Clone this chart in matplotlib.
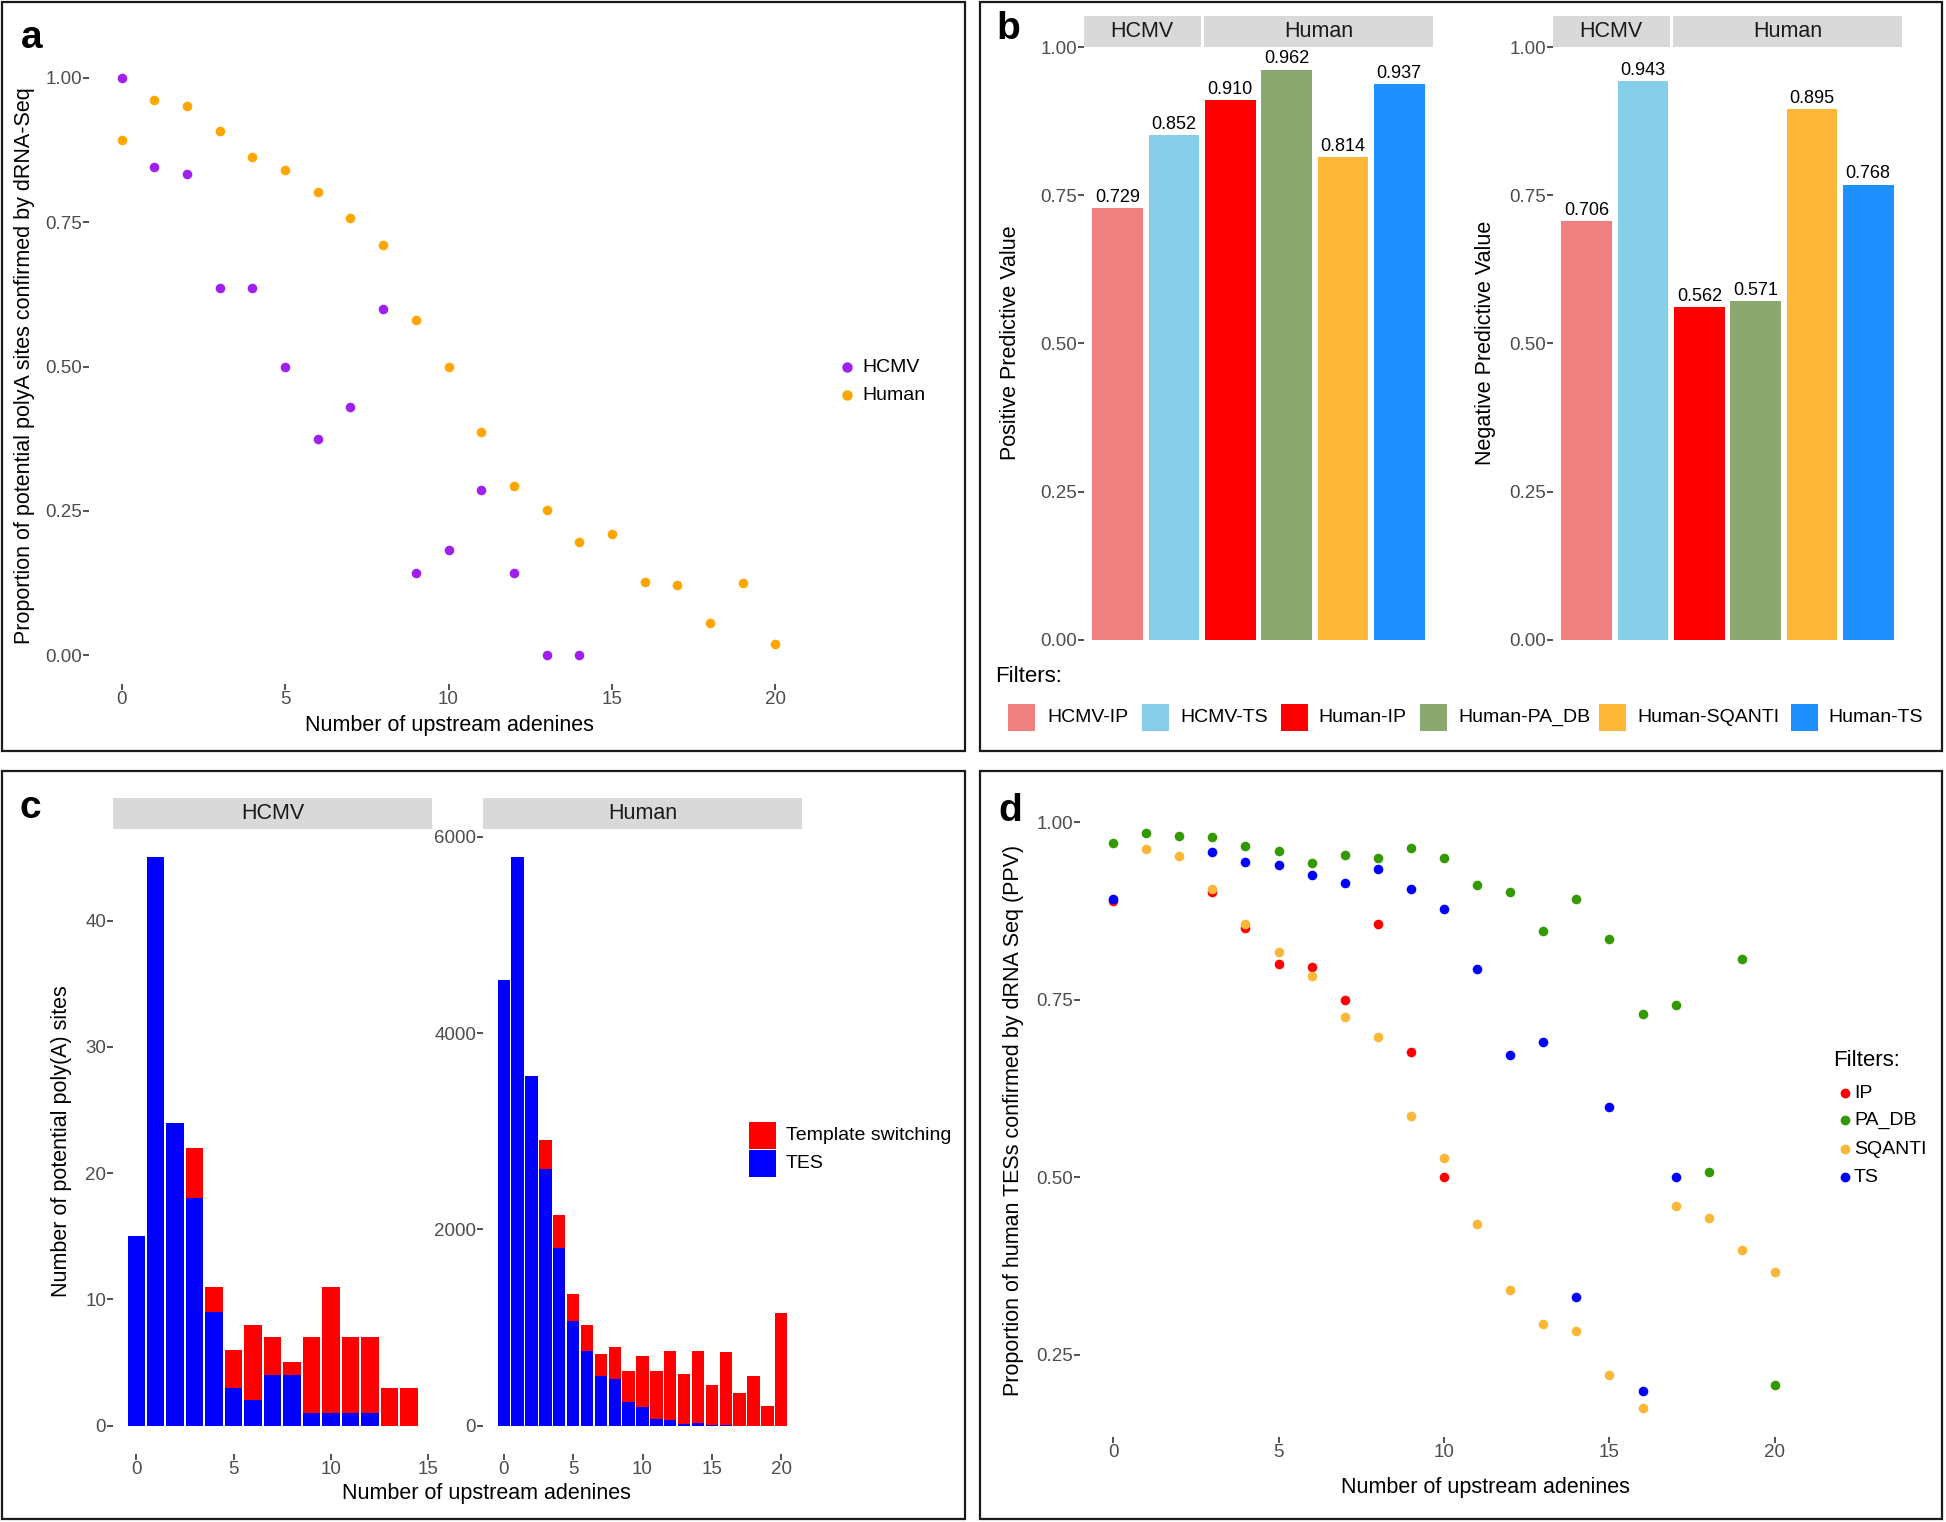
import numpy as np
import matplotlib
matplotlib.use("Agg")
import matplotlib.pyplot as plt
from matplotlib.patches import Rectangle

plt.rcParams['font.family'] = ['Liberation Sans', 'DejaVu Sans']

# ---------------- data ----------------
# panel a
a_x_hcmv = list(range(15))
a_hcmv = [1.0, 0.846, 0.833, 0.636, 0.636, 0.5, 0.375, 0.429, 0.6, 0.143, 0.182, 0.286, 0.143, 0.0, 0.0]
a_x_human = list(range(21))
a_human = [0.892, 0.961, 0.951, 0.908, 0.863, 0.841, 0.802, 0.757, 0.711, 0.581, 0.5,
           0.386, 0.293, 0.251, 0.196, 0.209, 0.127, 0.122, 0.055, 0.125, 0.019]

# panel b
b_filters = ["HCMV-IP", "HCMV-TS", "Human-IP", "Human-PA_DB", "Human-SQANTI", "Human-TS"]
b_colors = ["#F08080", "#87CEEB", "#FF0000", "#8BA870", "#FBB735", "#1E90FF"]
b_ppv = [0.729, 0.852, 0.910, 0.962, 0.814, 0.937]
b_npv = [0.706, 0.943, 0.562, 0.571, 0.895, 0.768]

# panel c
c_x_hcmv = list(range(15))
c_hcmv_total = [15, 45, 24, 22, 11, 6, 8, 7, 5, 7, 11, 7, 7, 3, 3]
c_hcmv_tes = [15, 45, 24, 18, 9, 3, 2, 4, 4, 1, 1, 1, 1, 0, 0]
c_x_human = list(range(21))
c_human_total = [4540, 5790, 3565, 2910, 2150, 1345, 1030, 725, 800, 555, 710,
                 555, 760, 530, 765, 415, 750, 335, 510, 195, 1145]
c_human_tes = [4540, 5790, 3565, 2615, 1805, 1070, 765, 510, 470, 240, 185,
               65, 55, 20, 30, 5, 5, 0, 0, 0, 0]

# panel d
nan = np.nan
d_x = list(range(21))
d_ip = [0.889, nan, nan, 0.902, 0.851, 0.800, 0.796, 0.750, 0.856, 0.676, 0.500,
        nan, nan, nan, nan, nan, nan, nan, nan, nan, nan]
d_padb = [0.971, 0.985, 0.980, 0.979, 0.967, 0.960, 0.943, 0.954, 0.950, 0.963, 0.949,
          0.912, 0.902, 0.847, 0.892, 0.835, 0.730, 0.743, 0.508, 0.808, 0.208]
d_sqanti = [nan, 0.962, 0.952, 0.906, 0.856, 0.817, 0.784, 0.725, 0.697, 0.587, 0.527,
            0.434, 0.342, 0.294, 0.284, 0.222, 0.175, 0.460, 0.443, 0.398, 0.367]
d_ts = [0.892, nan, nan, 0.958, 0.944, 0.939, 0.926, 0.915, 0.934, 0.906, 0.878,
        0.793, 0.672, 0.691, 0.332, 0.599, 0.199, 0.500, nan, nan, nan]
d_series = ["IP", "PA_DB", "SQANTI", "TS"]
d_colors = ["#FF0000", "#339900", "#FBB735", "#0000FF"]

# ---------------- layout helpers ----------------
W, H = 1946, 1522
fig = plt.figure(figsize=(W / 100, H / 100), dpi=100)
fig.patch.set_facecolor("white")

def fx(x):
    return x / W

def fy(y):
    return 1 - y / H

TITLE = 15.5
TICK = 13.5
LEG = 14

def add_ax(x0, y0, x1, y1):
    ax = fig.add_axes([fx(x0), fy(y1), (x1 - x0) / W, (y1 - y0) / H])
    for s in ax.spines.values():
        s.set_visible(False)
    ax.set_facecolor("white")
    ax.tick_params(axis="both", length=4, width=1.2, color="#333333",
                   labelcolor="#4D4D4D", labelsize=TICK, pad=1)
    return ax

def ftext(x, y, s, **kw):
    fig.text(fx(x), fy(y), s, **kw)

def box(x0, y0, x1, y1):
    fig.patches.append(Rectangle((fx(x0), fy(y1)), (x1 - x0) / W, (y1 - y0) / H,
                                 transform=fig.transFigure, fill=False,
                                 edgecolor="#1a1a1a", linewidth=1.6))

box(2, 2, 965, 751)
box(980, 2, 1942, 751)
box(2, 771, 965, 1519)
box(980, 771, 1942, 1519)

# ---------------- panel a ----------------
ax = add_ax(89, 49, 808, 684)
ax.scatter(a_x_hcmv, a_hcmv, s=48, color="#A020F0", linewidths=0, zorder=3)
ax.scatter(a_x_human, a_human, s=48, color="#FFA500", linewidths=0, zorder=3)
ax.set_xlim(-1, 21)
ax.set_ylim(-0.05, 1.05)
ax.set_xticks([0, 5, 10, 15, 20])
ax.set_yticks([0, 0.25, 0.5, 0.75, 1.0])
ax.set_yticklabels(["0.00", "0.25", "0.50", "0.75", "1.00"])
ftext(25, 366, "Proportion of potential polyA sites confirmed by dRNA-Seq",
      rotation=90, ha="center", va="center", fontsize=TITLE)
ftext(449, 725, "Number of upstream adenines", ha="center", va="center", fontsize=TITLE)
for lab, col, yy in [("HCMV", "#A020F0", 367), ("Human", "#FFA500", 395)]:
    fig.lines.append(plt.Line2D([fx(847)], [fy(yy)], transform=fig.transFigure,
                                marker="o", markersize=6.5, color=col, linestyle="none"))
    ftext(862, yy, lab, ha="left", va="center", fontsize=LEG)
ftext(32, 38, "a", ha="center", va="center", fontsize=28, fontweight="bold")

# ---------------- panel b ----------------
xb = np.arange(1, 7)
for (x0, x1), vals, ylab, ylx in [((1084, 1433), b_ppv, "Positive Predictive Value", 1011),
                                   ((1553, 1902), b_npv, "Negative Predictive Value", 1486)]:
    ax = add_ax(x0, 47, x1, 640)
    ax.bar(xb, vals, width=0.9, color=b_colors, zorder=2)
    for xi, v in zip(xb, vals):
        ax.annotate(f"{v:.3f}", (xi, v), xytext=(0, 1.5), textcoords="offset points",
                    ha="center", va="bottom", fontsize=13, color="black", clip_on=False)
    ax.set_xlim(0.4, 6.6)
    ax.set_ylim(0, 1)
    ax.set_xticks([])
    ax.set_yticks([0, 0.25, 0.5, 0.75, 1.0])
    ax.set_yticklabels(["0.00", "0.25", "0.50", "0.75", "1.00"])
    # strips
    for (s0, s1, lab) in [(0.4, 2.47, "HCMV"), (2.53, 6.6, "Human")]:
        ax.add_patch(Rectangle((s0, 1.0), s1 - s0, 31 / 593, transform=ax.transData,
                               facecolor="#D9D9D9", edgecolor="none", clip_on=False))
        ax.text((s0 + s1) / 2, 1.0 + 15.5 / 593, lab, ha="center", va="center",
                fontsize=TITLE, color="#1A1A1A", clip_on=False)
    ftext(ylx, 343, ylab, rotation=90, ha="center", va="center", fontsize=TITLE)

ftext(995, 677, "Filters:", ha="left", va="center", fontsize=16)
key_x = [1008, 1142, 1281, 1420, 1599, 1791]
lab_x = [1047, 1180, 1318, 1458, 1637, 1828]
for kx, lx, lab, col in zip(key_x, lab_x, b_filters, b_colors):
    fig.patches.append(Rectangle((fx(kx), fy(731)), 27 / W, 27 / H, transform=fig.transFigure,
                                 facecolor=col, edgecolor="none"))
    ftext(lx, 717, lab, ha="left", va="center", fontsize=LEG)
ftext(1008, 29, "b", ha="center", va="center", fontsize=28, fontweight="bold")

# ---------------- panel c ----------------
def stacked(ax, xs, total, tes):
    ts = [t - e for t, e in zip(total, tes)]
    ax.bar(xs, tes, width=0.9, color="#0000FF", zorder=2)
    ax.bar(xs, ts, bottom=tes, width=0.9, color="#FF0000", zorder=2)

ax = add_ax(113, 829, 432, 1454)
stacked(ax, c_x_hcmv, c_hcmv_total, c_hcmv_tes)
ax.set_xlim(-1.195, 15.195)
ax.set_ylim(-2.25, 47.25)
ax.set_xticks([0, 5, 10, 15])
ax.set_yticks([0, 10, 20, 30, 40])
ax.add_patch(Rectangle((-1.195, 47.25), 16.39, 31 / 12.625, transform=ax.transData,
                       facecolor="#D9D9D9", edgecolor="none", clip_on=False))
ax.text(7.0, 47.25 + 15.5 / 12.625, "HCMV", ha="center", va="center",
        fontsize=TITLE, color="#1A1A1A", clip_on=False)

ax = add_ax(483, 829, 802, 1454)
stacked(ax, c_x_human, c_human_total, c_human_tes)
ax.set_xlim(-1.495, 21.495)
ax.set_ylim(-289.5, 6079.5)
ax.set_xticks([0, 5, 10, 15, 20])
ax.set_yticks([0, 2000, 4000, 6000])
ax.add_patch(Rectangle((-1.495, 6079.5), 22.99, 31 / 0.09812, transform=ax.transData,
                       facecolor="#D9D9D9", edgecolor="none", clip_on=False))
ax.text(10.0, 6079.5 + 15.5 / 0.09812, "Human", ha="center", va="center",
        fontsize=TITLE, color="#1A1A1A", clip_on=False)

ftext(62, 1141, "Number of potential poly(A) sites", rotation=90, ha="center",
      va="center", fontsize=TITLE)
ftext(486, 1494, "Number of upstream adenines", ha="center", va="center", fontsize=TITLE)
for lab, col, yy in [("Template switching", "#FF0000", 1122), ("TES", "#0000FF", 1150)]:
    fig.patches.append(Rectangle((fx(749), fy(yy + 27)), 27 / W, 27 / H,
                                 transform=fig.transFigure, facecolor=col, edgecolor="none"))
    ftext(786, yy + 13.5, lab, ha="left", va="center", fontsize=LEG)
ftext(30, 808, "c", ha="center", va="center", fontsize=28, fontweight="bold")

# ---------------- panel d ----------------
ax = add_ax(1080, 804, 1808, 1437)
for vals, col in zip([d_ip, d_padb, d_sqanti, d_ts], d_colors):
    ax.scatter(d_x, vals, s=48, color=col, linewidths=0, zorder=3)
ax.set_xlim(-1, 21)
ax.set_ylim(0.1345, 1.0255)
ax.set_xticks([0, 5, 10, 15, 20])
ax.set_yticks([0.25, 0.5, 0.75, 1.0])
ax.set_yticklabels(["0.25", "0.50", "0.75", "1.00"])
ftext(1014, 1120, "Proportion of human TESs confirmed by dRNA Seq (PPV)", rotation=90,
      ha="center", va="center", fontsize=TITLE)
ftext(1485, 1487, "Number of upstream adenines", ha="center", va="center", fontsize=TITLE)
ftext(1833, 1060, "Filters:", ha="left", va="center", fontsize=16)
for lab, col, yy in zip(d_series, d_colors, [1093, 1120, 1149, 1177]):
    fig.lines.append(plt.Line2D([fx(1845)], [fy(yy)], transform=fig.transFigure,
                                marker="o", markersize=6.0, color=col, linestyle="none"))
    ftext(1854, yy, lab, ha="left", va="center", fontsize=LEG)
ftext(1010, 811, "d", ha="center", va="center", fontsize=28, fontweight="bold")

fig.savefig("out.png", dpi=100, facecolor="white")
